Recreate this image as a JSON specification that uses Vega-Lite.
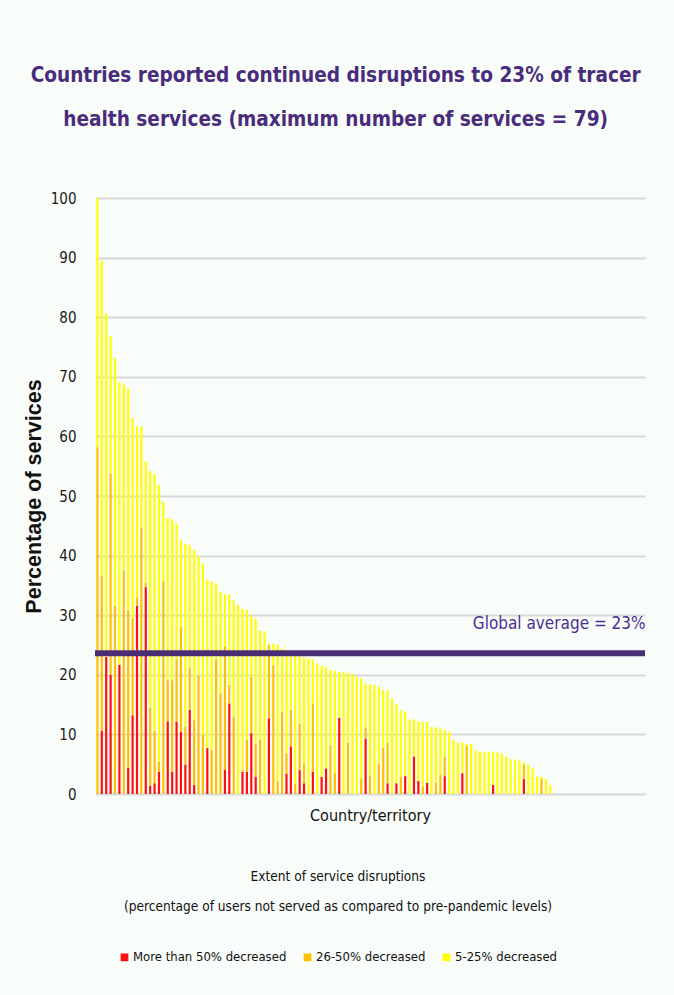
{
  "$schema": "https://vega.github.io/schema/vega-lite/v6.json",
  "width": 550,
  "height": 596,
  "autosize": {"type": "none"},
  "padding": {"left": 95, "top": 198, "right": 29, "bottom": 201},
  "background": "#f9fdf9",
  "config": {
    "font": "DejaVu Sans Condensed, Liberation Sans, sans-serif",
    "view": {"stroke": null}
  },
  "title": {
    "text": ["Countries reported continued disruptions to 23% of tracer", "health services (maximum number of services = 79)"],
    "fontSize": 20.6,
    "fontWeight": "bold",
    "color": "#4a2c7d",
    "lineHeight": 44,
    "anchor": "middle",
    "frame": "bounds",
    "offset": 60
  },
  "layer": [
    {
      "data": {"values": [
        {"c":1,"severe":0,"moderate":58.2,"mild":41.8},
        {"c":2,"severe":10.6,"moderate":26.1,"mild":52.7},
        {"c":3,"severe":23.0,"moderate":0,"mild":57.6},
        {"c":4,"severe":20.0,"moderate":33.8,"mild":23.0},
        {"c":5,"severe":0,"moderate":31.6,"mild":41.6},
        {"c":6,"severe":21.7,"moderate":0,"mild":47.4},
        {"c":7,"severe":0,"moderate":37.5,"mild":31.2},
        {"c":8,"severe":4.4,"moderate":26.4,"mild":37.2},
        {"c":9,"severe":13.2,"moderate":16.3,"mild":33.6},
        {"c":10,"severe":31.6,"moderate":1.4,"mild":28.7},
        {"c":11,"severe":0,"moderate":44.6,"mild":17.1},
        {"c":12,"severe":34.7,"moderate":0.8,"mild":20.3},
        {"c":13,"severe":1.4,"moderate":13.1,"mild":39.7},
        {"c":14,"severe":1.8,"moderate":8.8,"mild":43.1},
        {"c":15,"severe":3.7,"moderate":1.7,"mild":46.5},
        {"c":16,"severe":0,"moderate":35.7,"mild":13.4},
        {"c":17,"severe":12.2,"moderate":6.9,"mild":27.2},
        {"c":18,"severe":3.7,"moderate":15.4,"mild":27.0},
        {"c":19,"severe":12.1,"moderate":10.6,"mild":22.7},
        {"c":20,"severe":10.4,"moderate":17.6,"mild":14.6},
        {"c":21,"severe":4.9,"moderate":6.4,"mild":30.7},
        {"c":22,"severe":14.1,"moderate":7.0,"mild":20.7},
        {"c":23,"severe":1.5,"moderate":10.9,"mild":28.6},
        {"c":24,"severe":0,"moderate":19.9,"mild":20.0},
        {"c":25,"severe":0,"moderate":9.9,"mild":28.8},
        {"c":26,"severe":7.7,"moderate":0,"mild":28.3},
        {"c":27,"severe":0,"moderate":7.4,"mild":28.3},
        {"c":28,"severe":0,"moderate":22.7,"mild":12.6},
        {"c":29,"severe":0,"moderate":16.9,"mild":17.0},
        {"c":30,"severe":4.1,"moderate":20.7,"mild":8.7},
        {"c":31,"severe":15.2,"moderate":3.1,"mild":15.2},
        {"c":32,"severe":0,"moderate":13.0,"mild":19.5},
        {"c":33,"severe":0,"moderate":0,"mild":31.7},
        {"c":34,"severe":3.7,"moderate":0.3,"mild":27.1},
        {"c":35,"severe":3.7,"moderate":5.4,"mild":21.8},
        {"c":36,"severe":10.2,"moderate":9.5,"mild":10.3},
        {"c":37,"severe":2.9,"moderate":5.6,"mild":20.9},
        {"c":38,"severe":0,"moderate":9.1,"mild":18.3},
        {"c":39,"severe":0,"moderate":0,"mild":27.3},
        {"c":40,"severe":12.7,"moderate":12.3,"mild":0.2},
        {"c":41,"severe":0,"moderate":21.6,"mild":3.6},
        {"c":42,"severe":0,"moderate":2.1,"mild":22.9},
        {"c":43,"severe":0,"moderate":13.8,"mild":10.6},
        {"c":44,"severe":3.4,"moderate":3.4,"mild":17.4},
        {"c":45,"severe":8.0,"moderate":6.1,"mild":9.8},
        {"c":46,"severe":0,"moderate":1.8,"mild":21.8},
        {"c":47,"severe":4.0,"moderate":7.8,"mild":11.5},
        {"c":48,"severe":1.8,"moderate":3.3,"mild":17.8},
        {"c":49,"severe":0,"moderate":0,"mild":22.7},
        {"c":50,"severe":3.7,"moderate":11.5,"mild":7.4},
        {"c":51,"severe":0,"moderate":0,"mild":21.9},
        {"c":52,"severe":2.9,"moderate":0,"mild":18.6},
        {"c":53,"severe":4.3,"moderate":0,"mild":17.0},
        {"c":54,"severe":0,"moderate":8.2,"mild":12.6},
        {"c":55,"severe":0,"moderate":3.5,"mild":17.2},
        {"c":56,"severe":12.8,"moderate":0,"mild":7.7},
        {"c":57,"severe":0,"moderate":0,"mild":20.5},
        {"c":58,"severe":0,"moderate":8.6,"mild":11.7},
        {"c":59,"severe":0,"moderate":0,"mild":20.2},
        {"c":60,"severe":0,"moderate":0,"mild":19.6},
        {"c":61,"severe":0,"moderate":2.5,"mild":16.9},
        {"c":62,"severe":9.3,"moderate":1.9,"mild":7.3},
        {"c":63,"severe":0,"moderate":3.0,"mild":15.4},
        {"c":64,"severe":0,"moderate":0,"mild":18.3},
        {"c":65,"severe":0,"moderate":5.1,"mild":12.9},
        {"c":66,"severe":0,"moderate":7.7,"mild":9.8},
        {"c":67,"severe":1.8,"moderate":6.8,"mild":8.7},
        {"c":68,"severe":0,"moderate":0,"mild":16.0},
        {"c":69,"severe":1.8,"moderate":0,"mild":13.3},
        {"c":70,"severe":0,"moderate":2.9,"mild":11.1},
        {"c":71,"severe":3.0,"moderate":0,"mild":10.8},
        {"c":72,"severe":0,"moderate":0,"mild":12.5},
        {"c":73,"severe":6.3,"moderate":0,"mild":6.2},
        {"c":74,"severe":2.2,"moderate":0,"mild":10.0},
        {"c":75,"severe":0,"moderate":1.3,"mild":10.8},
        {"c":76,"severe":1.9,"moderate":0,"mild":10.2},
        {"c":77,"severe":0,"moderate":0,"mild":11.2},
        {"c":78,"severe":0,"moderate":1.9,"mild":9.3},
        {"c":79,"severe":0,"moderate":3.2,"mild":7.8},
        {"c":80,"severe":3.0,"moderate":3.3,"mild":4.4},
        {"c":81,"severe":0,"moderate":0,"mild":10.4},
        {"c":82,"severe":0,"moderate":0,"mild":9.1},
        {"c":83,"severe":0,"moderate":0,"mild":8.6},
        {"c":84,"severe":3.5,"moderate":0,"mild":5.1},
        {"c":85,"severe":0,"moderate":8.0,"mild":0.4},
        {"c":86,"severe":0,"moderate":0,"mild":8.4},
        {"c":87,"severe":0,"moderate":0,"mild":7.3},
        {"c":88,"severe":0,"moderate":0,"mild":7.1},
        {"c":89,"severe":0,"moderate":0,"mild":7.1},
        {"c":90,"severe":0,"moderate":0,"mild":7.1},
        {"c":91,"severe":1.5,"moderate":0,"mild":5.5},
        {"c":92,"severe":0,"moderate":0,"mild":7.0},
        {"c":93,"severe":0,"moderate":0,"mild":6.8},
        {"c":94,"severe":0,"moderate":0,"mild":6.3},
        {"c":95,"severe":0,"moderate":0,"mild":5.8},
        {"c":96,"severe":0,"moderate":0,"mild":5.8},
        {"c":97,"severe":0,"moderate":0,"mild":5.6},
        {"c":98,"severe":2.5,"moderate":2.5,"mild":0.3},
        {"c":99,"severe":0,"moderate":0,"mild":4.9},
        {"c":100,"severe":0,"moderate":0,"mild":4.3},
        {"c":101,"severe":0,"moderate":0,"mild":2.9},
        {"c":102,"severe":0,"moderate":2.5,"mild":0.4},
        {"c":103,"severe":0,"moderate":0,"mild":2.5},
        {"c":104,"severe":0,"moderate":0,"mild":1.5},
        {"c":105,"severe":0,"moderate":0,"mild":0},
        {"c":106,"severe":0,"moderate":0,"mild":0},
        {"c":107,"severe":0,"moderate":0,"mild":0},
        {"c":108,"severe":0,"moderate":0,"mild":0},
        {"c":109,"severe":0,"moderate":0,"mild":0},
        {"c":110,"severe":0,"moderate":0,"mild":0},
        {"c":111,"severe":0,"moderate":0,"mild":0},
        {"c":112,"severe":0,"moderate":0,"mild":0},
        {"c":113,"severe":0,"moderate":0,"mild":0},
        {"c":114,"severe":0,"moderate":0,"mild":0},
        {"c":115,"severe":0,"moderate":0,"mild":0},
        {"c":116,"severe":0,"moderate":0,"mild":0},
        {"c":117,"severe":0,"moderate":0,"mild":0},
        {"c":118,"severe":0,"moderate":0,"mild":0},
        {"c":119,"severe":0,"moderate":0,"mild":0},
        {"c":120,"severe":0,"moderate":0,"mild":0},
        {"c":121,"severe":0,"moderate":0,"mild":0},
        {"c":122,"severe":0,"moderate":0,"mild":0},
        {"c":123,"severe":0,"moderate":0,"mild":0},
        {"c":124,"severe":0,"moderate":0,"mild":0},
        {"c":125,"severe":0,"moderate":0,"mild":0}
      ]},
      "transform": [{"fold": ["severe", "moderate", "mild"], "as": ["level", "pct"]}],
      "mark": {"type": "bar"},
      "encoding": {
        "x": {
          "field": "c", "type": "ordinal",
          "scale": {"paddingInner": 0.5, "paddingOuter": 0.3},
          "axis": {"labels": false, "ticks": false, "domain": false, "grid": false,
                   "title": "Country/territory", "titleFontSize": 16, "titleFontWeight": "normal",
                   "titleColor": "#111111", "titlePadding": 13}
        },
        "y": {
          "field": "pct", "type": "quantitative", "stack": "zero",
          "scale": {"domain": [0, 100]},
          "axis": {"values": [0,10,20,30,40,50,60,70,80,90,100], "labelFontSize": 15, "labelColor": "#1a1a1a",
                   "labelPadding": 19, "ticks": false, "domain": false,
                   "gridColor": "#d9d9d9", "gridWidth": 2,
                   "title": "Percentage of services", "titleFont": "Liberation Sans", "titleFontSize": 21.5,
                   "titleFontWeight": "bold", "titleColor": "#111111", "titlePadding": 5}
        },
        "color": {
          "field": "level", "type": "nominal",
          "scale": {"domain": ["severe", "moderate", "mild"], "range": ["#ff1010", "#ffc000", "#ffff00"]},
          "legend": {
            "orient": "none", "legendX": 23, "legendY": 672, "direction": "horizontal",
            "title": ["Extent of service disruptions", "(percentage of users not served as compared to pre-pandemic levels)"],
            "titleFontSize": 13.6, "titleFontWeight": "normal", "titleColor": "#111111",
            "titleAnchor": "middle", "titleAlign": "center", "titleLineHeight": 30, "titlePadding": 37,
            "titleLimit": 600,
            "labelExpr": "datum.label == 'severe' ? 'More than 50% decreased' : datum.label == 'moderate' ? '26-50% decreased' : '5-25% decreased'",
            "labelFontSize": 13, "labelColor": "#111111", "labelLimit": 300, "labelOffset": 2,
            "symbolType": "square", "symbolSize": 60, "symbolStrokeWidth": 0, "columnPadding": 14
          }
        },
        "order": {"field": "level", "sort": "descending"}
      }
    },
    {
      "data": {"values": [{"avg": 23.6}]},
      "mark": {"type": "rule", "color": "#4b2d73", "strokeWidth": 6},
      "encoding": {"y": {"field": "avg", "type": "quantitative"}}
    },
    {
      "data": {"values": [{"c": 125, "avg": 23.6, "label": "Global average = 23%"}]},
      "mark": {"type": "text", "align": "right", "baseline": "alphabetic", "dx": 3, "dy": -24,
               "fontSize": 17, "color": "#4b2f96"},
      "encoding": {
        "x": {"field": "c", "type": "ordinal"},
        "y": {"field": "avg", "type": "quantitative"},
        "text": {"field": "label"}
      }
    }
  ]
}
